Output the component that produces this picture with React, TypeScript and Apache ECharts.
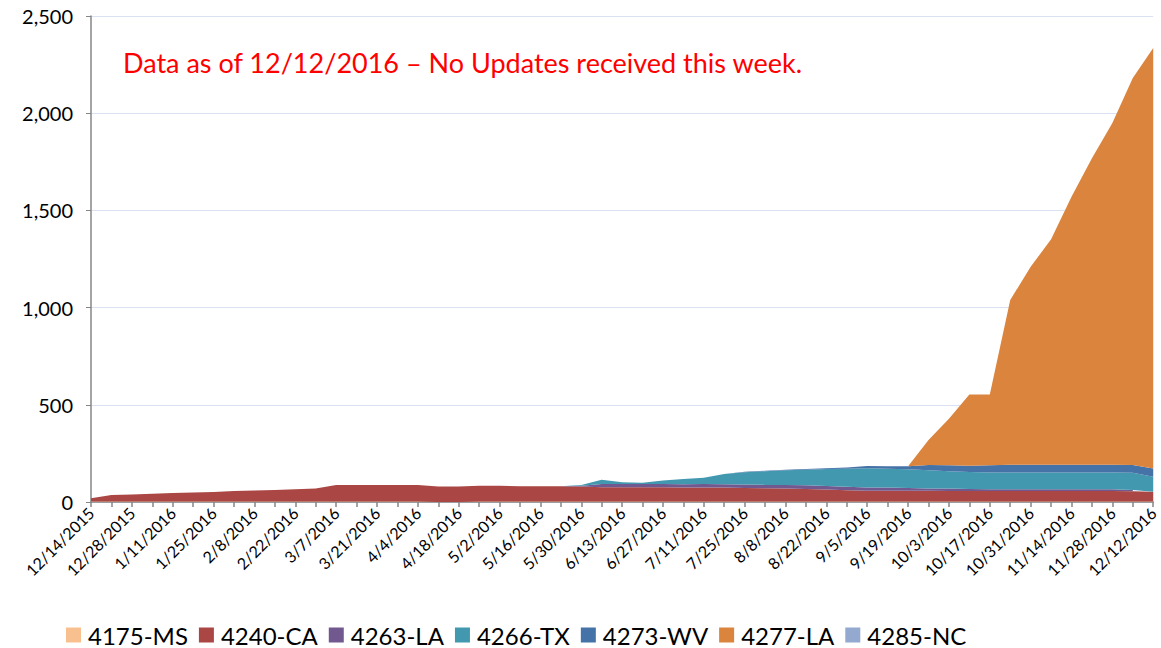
import React, { useEffect, useRef } from "react";
import * as echarts from "echarts";

const dates = [
  "12/14/2015", "12/21/2015", "12/28/2015", "1/4/2016", "1/11/2016", "1/18/2016", "1/25/2016",
  "2/1/2016", "2/8/2016", "2/15/2016", "2/22/2016", "2/29/2016", "3/7/2016", "3/14/2016",
  "3/21/2016", "3/28/2016", "4/4/2016", "4/11/2016", "4/18/2016", "4/25/2016", "5/2/2016",
  "5/9/2016", "5/16/2016", "5/23/2016", "5/30/2016", "6/6/2016", "6/13/2016", "6/20/2016",
  "6/27/2016", "7/4/2016", "7/11/2016", "7/18/2016", "7/25/2016", "8/1/2016", "8/8/2016",
  "8/15/2016", "8/22/2016", "8/29/2016", "9/5/2016", "9/12/2016", "9/19/2016", "9/26/2016",
  "10/3/2016", "10/10/2016", "10/17/2016", "10/24/2016", "10/31/2016", "11/7/2016",
  "11/14/2016", "11/21/2016", "11/28/2016", "12/5/2016", "12/12/2016",
];

const ms4175 = [
  3, 3, 3, 3, 3, 3, 3, 3, 3, 3, 3, 3, 3, 3, 3, 3, 3, 0, 0, 3, 3, 3, 3, 3, 3, 3, 3,
  3, 3, 3, 3, 3, 3, 3, 3, 3, 3, 3, 3, 3, 3, 3, 3, 3, 3, 3, 3, 3, 3, 3, 3, 3, 3,
];
const ca4240 = [
  16, 33, 36, 39, 43, 46, 49, 53, 56, 59, 63, 66, 84, 84, 84, 84, 84, 80, 80, 81, 81,
  78, 78, 78, 77, 73, 73, 73, 73, 71, 71, 71, 69, 68, 66, 64, 61, 57, 55, 55, 55, 55,
  54, 53, 53, 53, 53, 53, 53, 53, 53, 52, 50,
];
const la4263 = [
  0, 0, 0, 0, 0, 0, 0, 0, 0, 0, 0, 0, 0, 0, 0, 0, 0, 0, 0, 0, 0, 0, 0, 0, 3, 17, 17,
  17, 17, 17, 18, 17, 18, 17, 18, 19, 18, 19, 17, 16, 14, 12, 12, 11, 9, 9, 9, 9, 9, 9,
  9, 7, null,
];
const tx4266 = [
  0, 0, 0, 0, 0, 0, 0, 0, 0, 0, 0, 0, 0, 0, 0, 0, 0, 0, 0, 0, 0, 0, 0, 0, 5, 22, 8,
  6, 17, 27, 33, 53, 63, 70, 76, 80, 88, 92, 98, 97, 96, 93, 89, 87, 87, 87, 87, 87, 87,
  87, 87, 89, 77,
];
const wv4273 = [
  0, 0, 0, 0, 0, 0, 0, 0, 0, 0, 0, 0, 0, 0, 0, 0, 0, 0, 0, 0, 0, 0, 0, 0, 0, 0, 0,
  0, 0, 0, 0, 0, 2, 3, 3, 4, 3, 7, 12, 13, 16, 27, 31, 33, 37, 40, 40, 40, 40, 40, 40,
  39, 42,
];
const la4277 = [
  0, 0, 0, 0, 0, 0, 0, 0, 0, 0, 0, 0, 0, 0, 0, 0, 0, 0, 0, 0, 0, 0, 0, 0, 0, 0, 0,
  0, 0, 0, 0, 0, 0, 0, 0, 0, 0, 0, 0, 0, 0, 129, 239, 366, 364, 847, 1018, 1159, 1378,
  1576, 1758, 1991, 2163,
];
const nc4285 = [
  0, 0, 0, 0, 0, 0, 0, 0, 0, 0, 0, 0, 0, 0, 0, 0, 0, 0, 0, 0, 0, 0, 0, 0, 0, 0, 0,
  0, 0, 0, 0, 0, 0, 0, 0, 0, 0, 0, 0, 0, 0, 0, 0, 0, 0, 0, 0, 0, 0, 0, 0, 0, 0,
];

const seriesNames = ["4175-MS", "4240-CA", "4263-LA", "4266-TX", "4273-WV", "4277-LA", "4285-NC"];
const seriesData = [ms4175, ca4240, la4263, tx4266, wv4273, la4277, nc4285];
const seriesColors = ["#F9C08F", "#AA4643", "#71588F", "#4198AF", "#4572A7", "#DB843D", "#93A9CF"];

const yTicks = { min: 0, max: 2500, interval: 500 };
const note = "Data as of 12/12/2016 – No Updates received this week.";

export default function App() {
  const ref = useRef<HTMLDivElement>(null);
  useEffect(() => {
    document.body.style.margin = "0";
    if (!ref.current) return;
    const chart = echarts.init(ref.current, null, { renderer: "svg" });
    const font = "Lato, 'Open Sans', sans-serif";
    chart.setOption({
      animation: false,
      textStyle: { fontFamily: font },
      grid: { left: 91, right: 5, top: 16, bottom: 146, containLabel: false },
      xAxis: {
        type: "category",
        data: dates,
        boundaryGap: false,
        axisLine: { lineStyle: { color: "#868686", width: 1.5 } },
        axisTick: { show: true, interval: 0, length: 5, lineStyle: { color: "#868686", width: 1.5 } },
        axisLabel: { interval: 1, rotate: 45, fontSize: 16, color: "#000", fontFamily: font, margin: 8 },
        splitLine: { show: false },
      },
      yAxis: {
        type: "value",
        min: yTicks.min,
        max: yTicks.max,
        interval: yTicks.interval,
        axisLine: { show: true, lineStyle: { color: "#868686", width: 1.5 } },
        axisTick: { show: true, length: 5, lineStyle: { color: "#868686" } },
        axisLabel: {
          fontSize: 20,
          color: "#000",
          fontFamily: font,
          margin: 18,
          formatter: (v: number) => v.toLocaleString("en-US"),
        },
        splitLine: { lineStyle: { color: "#D9E1F2", width: 1 } },
      },
      legend: {
        left: 66,
        top: 623,
        padding: 0,
        itemWidth: 15,
        itemHeight: 15,
        itemGap: 11,
        icon: "rect",
        textStyle: { fontSize: 24, lineHeight: 24, color: "#000", fontFamily: font, padding: [0, 0, 0, 2] },
        data: seriesNames,
      },
      graphic: [
        {
          type: "text",
          left: 123,
          top: 49,
          style: { text: note, fill: "#FF0000", fontSize: 27, fontFamily: font },
        },
      ],
      series: seriesNames.map((name, i) => ({
        name,
        type: "line",
        stack: "total",
        data: seriesData[i],
        symbol: "none",
        showSymbol: false,
        connectNulls: false,
        lineStyle: { width: 0, color: seriesColors[i] },
        itemStyle: { color: seriesColors[i] },
        areaStyle: { color: seriesColors[i], opacity: 1 },
        emphasis: { disabled: true },
      })),
    });
    return () => chart.dispose();
  }, []);
  return <div ref={ref} style={{ width: 1161, height: 648 }} />;
}
